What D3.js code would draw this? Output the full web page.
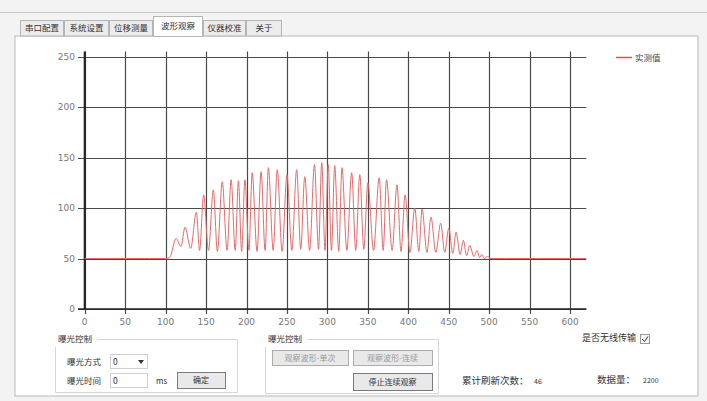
<!DOCTYPE html>
<html>
<head>
<meta charset="utf-8">
<script src="https://cdn.jsdelivr.net/npm/d3@7"></script>
<style>
  body { margin: 0; background: #fff; }
  svg text { font-family: "Noto Sans CJK SC", "DejaVu Sans", sans-serif; }
</style>
</head>
<body>
<div id="chart"></div>
<script>
// tab names and control texts
var tabNames = ["串口配置", "系统设置", "位移测量", "波形观察", "仪器校准", "关于"];
var seriesName = "实测值";

// axis ticks
var xTicks = [0, 50, 100, 150, 200, 250, 300, 350, 400, 450, 500, 550, 600];
var yTicks = [0, 50, 100, 150, 200, 250];

// waveform vertices (peaks and troughs)
var sampleX = [0, 20, 40, 60, 80, 100, 105, 113, 119, 124, 131, 138, 142, 147, 153, 159, 164, 170, 176, 181,
  186, 190, 194, 198, 203, 207, 213, 218, 223, 227, 233, 238, 244, 250, 256, 262, 267, 272, 278, 284,
  289, 293, 297, 301, 305, 309, 314, 318, 324, 330, 335, 340, 345, 350, 357, 364, 369, 373, 380, 386,
  391, 396, 402, 408, 413, 417, 423, 428, 434, 440, 445, 450, 455, 459, 464, 468, 472, 476, 481, 485,
  488, 491, 494, 498, 502, 520, 560, 600, 620];
var sampleY = [50, 50, 50, 50, 50, 50, 51, 70, 62, 81, 60, 96, 58, 113, 58, 118, 57, 126, 58, 128,
  58, 127, 57, 128, 58, 135, 57, 136, 58, 140, 58, 138, 57, 133, 58, 138, 59, 131, 58, 143,
  59, 145, 58, 143, 58, 142, 57, 140, 58, 135, 58, 133, 59, 125, 58, 130, 58, 128, 58, 123,
  57, 113, 56, 100, 57, 99, 56, 91, 56, 85, 56, 80, 55, 76, 54, 68, 53, 63, 52, 58,
  51, 54, 50, 52, 50, 50, 50, 50, 50];

var W = 707, H = 401;
var svg = d3.select("#chart").append("svg")
    .attr("width", W)
    .attr("height", H);

// window chrome
svg.append("rect").attr("width", W).attr("height", H).attr("fill", "#f3f3f3");
svg.append("rect").attr("x", 15).attr("y", 36).attr("width", 683).attr("height", 360)
    .attr("fill", "#fff").attr("stroke", "#b9b9b9");
svg.append("line").attr("x1", 0).attr("x2", W).attr("y1", 12.5).attr("y2", 12.5).attr("stroke", "#c8c8c8");

// tabs
var tabX = [20, 64, 109, 153, 203, 246, 282];
tabNames.forEach(function(t, i) {
  var sel = i === 3;
  var g = svg.append("g");
  g.append("rect")
    .attr("x", tabX[i] + 0.5).attr("y", sel ? 16.5 : 20.5)
    .attr("width", tabX[i + 1] - tabX[i] - 1).attr("height", sel ? 20 : 15.5)
    .attr("fill", sel ? "#fff" : "#ececec").attr("stroke", "#b5b5b5");
  g.append("text")
    .attr("x", (tabX[i] + tabX[i + 1]) / 2).attr("y", sel ? 29 : 31)
    .attr("text-anchor", "middle").attr("font-size", 8.5).attr("fill", "#333")
    .text(t);
});

// chart
var x = d3.scaleLinear().domain([0, 620]).range([84.7, 586.3]);
var y = d3.scaleLinear().domain([0, 255]).range([309, 51.5]);

// grid
svg.append("g").selectAll("line").data(yTicks).join("line")
    .attr("x1", 78).attr("x2", x(620))
    .attr("y1", d => Math.round(y(d)) + 0.5).attr("y2", d => Math.round(y(d)) + 0.5)
    .attr("stroke", "#4a4a4a").attr("stroke-width", 1.2);
svg.append("g").selectAll("line").data(xTicks).join("line")
    .attr("x1", d => Math.round(x(d)) + 0.5).attr("x2", d => Math.round(x(d)) + 0.5)
    .attr("y1", y(255)).attr("y2", 314)
    .attr("stroke", "#4a4a4a").attr("stroke-width", 1.2);

// axes lines
svg.append("line").attr("x1", x(0)).attr("x2", x(0)).attr("y1", y(255)).attr("y2", y(0))
    .attr("stroke", "#222").attr("stroke-width", 2);
svg.append("line").attr("x1", 78).attr("x2", x(620)).attr("y1", y(0)).attr("y2", y(0))
    .attr("stroke", "#222").attr("stroke-width", 1.5);

// tick labels
svg.append("g").selectAll("text").data(yTicks).join("text")
    .attr("x", 75).attr("y", d => y(d) + 3)
    .attr("text-anchor", "end").attr("font-size", 9).attr("fill", "#777")
    .style("font-family", "'DejaVu Sans', sans-serif")
    .text(d => d);
svg.append("g").selectAll("text").data(xTicks).join("text")
    .attr("x", d => x(d)).attr("y", 325)
    .attr("text-anchor", "middle").attr("font-size", 9).attr("fill", "#777")
    .style("font-family", "'DejaVu Sans', sans-serif")
    .text(d => d);

// waveform
var data = sampleX.map(function(v, i) { return {x: v, y: sampleY[i]}; });
var line = d3.line()
    .x(d => x(d.x))
    .y(d => y(d.y))
    .curve(d3.curveMonotoneX);
svg.append("path")
    .datum(data)
    .attr("d", line)
    .attr("fill", "none")
    .attr("stroke", "#e36b6b")
    .attr("stroke-width", 1);

// legend
svg.append("line").attr("x1", 616).attr("x2", 632).attr("y1", 57.5).attr("y2", 57.5)
    .attr("stroke", "#c85a5a").attr("stroke-width", 1.5);
svg.append("text").attr("x", 635).attr("y", 61).attr("font-size", 8.5).attr("fill", "#444").text(seriesName);

// bottom controls
function groupBox(x0, x1, y0, y1, title) {
  svg.append("path")
    .attr("d", `M${x0 + 42},${y0 + 0.5}H${x1 + 0.5}V${y1 + 0.5}H${x0 + 0.5}V${y0 + 8}`)
    .attr("fill", "none").attr("stroke", "#d6d6d6");
  svg.append("text").attr("x", x0 + 3).attr("y", y0 + 3).attr("font-size", 8.5).attr("fill", "#333").text(title);
}
function button(x0, y0, w, h, t, strong) {
  svg.append("rect").attr("x", x0 + 0.5).attr("y", y0 + 0.5).attr("width", w).attr("height", h)
    .attr("fill", "#e9e9e9").attr("stroke", strong ? "#7a7a7a" : "#adadad");
  svg.append("text").attr("x", x0 + w / 2).attr("y", y0 + h / 2 + 3).attr("text-anchor", "middle")
    .attr("font-size", 8).attr("fill", strong ? "#333" : "#999").text(t);
}
function label(x0, y0, t, size) {
  svg.append("text").attr("x", x0).attr("y", y0).attr("font-size", size || 8.5).attr("fill", "#333").text(t);
}

groupBox(55, 237, 339, 392, "曝光控制");
label(67, 365, "曝光方式");
svg.append("rect").attr("x", 110.5).attr("y", 354.5).attr("width", 37).attr("height", 14)
    .attr("fill", "#fff").attr("stroke", "#cfcfcf");
label(113, 365, "0");
svg.append("path").attr("d", "M138,360 L144,360 L141,364 Z").attr("fill", "#333");
label(67, 384, "曝光时间");
svg.append("rect").attr("x", 110.5).attr("y", 373.5).attr("width", 37).attr("height", 14)
    .attr("fill", "#fff").attr("stroke", "#cfcfcf");
label(113, 384, "0");
label(156, 384, "ms", 8);
button(177, 372, 48, 16, "确定", true);

groupBox(265, 438, 339, 393, "曝光控制");
button(272, 350, 76, 15, "观察波形-单次", false);
button(353, 350, 79, 15, "观察波形-连续", false);
button(353, 373, 79, 17, "停止连续观察", true);

label(462, 384, "累计刷新次数：", 9.5);
label(534, 384, "46", 7);
label(597, 383, "数据量：", 9.5);
label(643, 383, "2200", 7);
label(582, 341, "是否无线传输", 9);
svg.append("rect").attr("x", 640.5).attr("y", 334.5).attr("width", 9).attr("height", 9)
    .attr("fill", "#f4f4f4").attr("stroke", "#9a9a9a");
svg.append("path").attr("d", "M642,339 L644.5,341.5 L648,336.5").attr("fill", "none").attr("stroke", "#333");
</script>
</body>
</html>
